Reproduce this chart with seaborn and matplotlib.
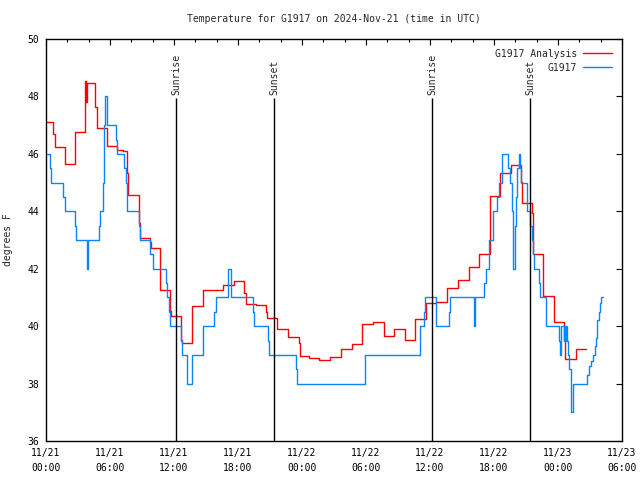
import matplotlib
matplotlib.use("Agg")
import matplotlib.pyplot as plt
import matplotlib.dates as mdates
import numpy as np
import pandas as pd
import seaborn as sns

# hours since 2024-11-21 00:00 UTC and temperature (F), stepped series
analysis_hours = [0.0, 0.69, 0.8, 1.75, 2.69, 3.63, 3.66, 3.72, 3.78, 3.85,
                  4.63, 4.75, 5.69, 5.75, 6.63, 7.25, 7.63, 7.69, 8.72, 8.81,
                  9.75, 9.81, 10.66, 11.63, 11.69, 12.63, 12.72, 13.66, 13.72,
                  14.69, 14.75, 16.63, 17.66, 18.6, 18.72, 19.69, 20.6, 20.69,
                  21.63, 21.69, 22.66, 23.72, 23.78, 23.85, 24.66, 25.63,
                  26.63, 27.63, 28.66, 29.6, 30.69, 31.69, 32.63, 33.66,
                  34.59, 35.6, 36.56, 37.62, 38.6, 39.63, 40.59, 41.6, 41.63,
                  42.56, 43.56, 44.53, 44.6, 45.59, 45.62, 45.66, 46.56,
                  46.62, 47.59, 47.62, 48.6, 48.66, 49.66, 50.6]
analysis_temp = [47.1, 46.7, 46.25, 45.64, 46.75, 47.7, 48.54, 48.05, 47.8,
                 48.46, 47.64, 46.89, 46.6, 46.27, 46.13, 46.1, 45.32, 44.57,
                 43.6, 43.08, 42.94, 42.73, 41.25, 40.53, 40.35, 39.52, 39.4,
                 40.04, 40.7, 41.0, 41.26, 41.43, 41.57, 41.14, 40.76, 40.72,
                 40.48, 40.27, 40.1, 39.89, 39.61, 39.4, 39.17, 38.97, 38.88,
                 38.82, 38.91, 39.19, 39.37, 40.06, 40.15, 39.66, 39.89, 39.52,
                 40.24, 40.8, 40.85, 41.32, 41.61, 42.07, 42.5, 43.52, 44.53,
                 45.34, 45.61, 45.02, 44.3, 43.93, 43.06, 42.5, 41.78, 41.05,
                 40.56, 40.15, 39.52, 38.84, 39.19, 39.19]

obs_hours = [0.07, 0.375, 0.44, 1.63, 1.75, 2.69, 2.78, 3.81, 3.97, 4.97,
             5.06, 5.38, 5.44, 5.56, 5.69, 6.53, 6.63, 7.31, 7.47, 7.56,
             7.63, 8.72, 8.81, 9.75, 10.06, 11.22, 11.31, 11.53, 11.63, 12.63,
             12.72, 13.25, 13.66, 13.72, 14.69, 14.75, 15.78, 15.94, 17.09,
             17.31, 19.38, 19.5, 20.84, 20.94, 23.44, 23.56, 29.9, 35.06,
             35.44, 35.53, 36.53, 36.59, 37.81, 37.88, 40.13, 40.19, 41.09,
             41.22, 41.53, 41.94, 42.31, 42.47, 42.78, 43.34, 43.47, 43.66,
             43.75, 43.97, 44.09, 44.19, 44.38, 44.44, 44.53, 45.13, 45.41,
             45.53, 45.69, 45.78, 46.22, 46.31, 46.88, 48.09, 48.19, 48.28,
             48.59, 48.62, 48.69, 48.75, 48.84, 48.94, 49.06, 49.19, 49.25,
             49.38, 50.69, 50.95, 51.1, 51.25, 51.45, 51.6, 51.7, 51.85,
             51.95, 52.05, 52.25]
obs_temp = [46.0, 45.5, 45.0, 44.5, 44.0, 43.5, 43.0, 42.0, 43.0, 43.5,
            44.0, 45.0, 47.0, 48.0, 47.0, 46.5, 46.0, 45.5, 45.0, 44.5,
            44.0, 43.5, 43.0, 42.5, 42.0, 41.5, 41.0, 40.5, 40.0, 39.5,
            39.0, 38.0, 38.5, 39.0, 39.5, 40.0, 40.5, 41.0, 42.0,
            41.0, 40.5, 40.0, 39.5, 39.0, 38.5, 38.0, 39.0, 40.0,
            40.5, 41.0, 40.5, 40.0, 40.5, 41.0, 40.0, 41.0, 41.5,
            42.0, 43.0, 44.0, 44.5, 45.0, 46.0, 45.5, 45.0, 44.0,
            42.0, 43.5, 44.5, 45.5, 46.0, 45.5, 45.0, 44.0, 43.5,
            43.0, 42.5, 42.0, 41.5, 41.0, 40.0, 39.5, 39.0, 40.0,
            39.5, 40.0, 39.5, 40.0, 39.5, 39.0, 38.5, 37.5, 37.0,
            38.0, 38.3, 38.6, 38.8, 39.0, 39.3, 39.6, 40.2, 40.5,
            40.8, 41.0, 41.0]

sun_hours = [12.19, 21.375, 36.19, 45.375]
sun_labels = ["Sunrise", "Sunset", "Sunrise", "Sunset"]

start = pd.Timestamp("2024-11-21 00:00")
to_time = lambda h: start + pd.to_timedelta(np.array(h), unit="h")

df_a = pd.DataFrame({"time": to_time(analysis_hours), "temp": analysis_temp})
df_o = pd.DataFrame({"time": to_time(obs_hours), "temp": obs_temp})

sns.set_style("white")
plt.rcParams["font.family"] = ["DejaVu Sans Mono"]

fig = plt.figure(figsize=(6.4, 4.8), dpi=100)
ax = fig.add_axes([46 / 640, 39 / 480, 576 / 640, 402 / 480])

sns.lineplot(data=df_a, x="time", y="temp", ax=ax, color="#ff0000",
             drawstyle="steps-post", estimator=None, linewidth=1.0,
             label="G1917 Analysis")
sns.lineplot(data=df_o, x="time", y="temp", ax=ax, color="#0a84ff",
             drawstyle="steps-post", estimator=None, linewidth=1.0,
             label="G1917")

for h, lab in zip(sun_hours, sun_labels):
    t = to_time(h)
    ax.vlines(t, 36, 47.95, color="black", linewidth=1.0)
    ax.text(t, 48.05, lab, rotation=90, ha="center", va="bottom", fontsize=7)

ax.set_xlim(start, start + pd.Timedelta(hours=54))
ax.set_ylim(36, 50)
ax.set_yticks(np.arange(36, 51, 2))
ax.xaxis.set_major_locator(mdates.HourLocator(byhour=[0, 6, 12, 18]))
ax.xaxis.set_minor_locator(mdates.HourLocator(byhour=range(0, 24, 2)))
ax.xaxis.set_major_formatter(mdates.DateFormatter("%m/%d\n%H:%M"))
for lab in ax.get_xticklabels():
    lab.set_linespacing(1.6)

ax.tick_params(axis="both", which="both", direction="in", top=True,
               right=True, labelsize=7, width=0.8, colors="black")
ax.tick_params(axis="both", which="major", length=4, pad=5)
ax.tick_params(axis="both", which="minor", length=2.5)
for s in ax.spines.values():
    s.set_color("black")
    s.set_linewidth(1.0)

ax.set_xlabel("")
ax.set_ylabel("degrees F", fontsize=7, labelpad=10)
ax.set_title("Temperature for G1917 on 2024-Nov-21 (time in UTC)",
             fontsize=7, pad=12)

leg = ax.legend(loc="upper right", frameon=False, markerfirst=False,
                fontsize=7, handlelength=3.0, handletextpad=0.6,
                borderaxespad=0.6, labelspacing=0.4)
for t in leg.get_texts():
    t.set_ha("right")

fig.savefig("out.png", dpi=100)
